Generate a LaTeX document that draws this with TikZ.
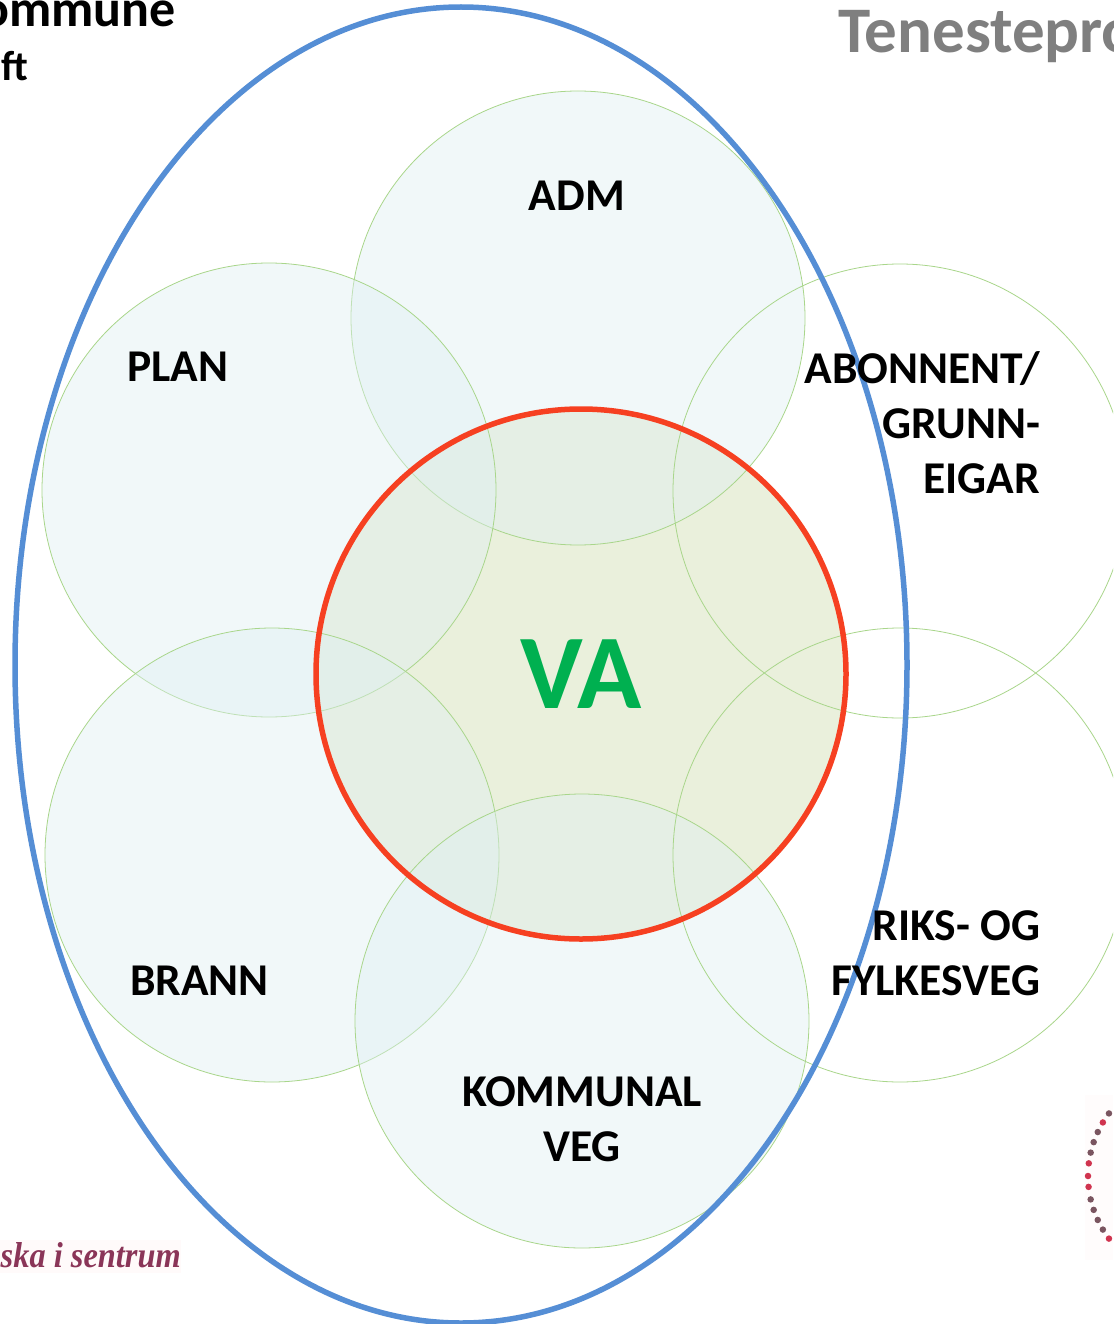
\documentclass[tikz,border=0pt]{standalone}
\usepackage{fontspec}
\setmainfont{Carlito}
\usetikzlibrary{shapes.geometric}
\definecolor{petal}{HTML}{DFEFF2}
\definecolor{petalline}{HTML}{A9D68B}
\definecolor{vafill}{HTML}{EAF0DC}
\definecolor{varing}{HTML}{F64021}
\definecolor{outerring}{HTML}{558ED5}
\definecolor{vagreen}{HTML}{00B050}
\definecolor{titlegrey}{HTML}{7F7F7F}
\definecolor{logored}{HTML}{D0344F}
\definecolor{loggrey}{HTML}{7A5560}
\definecolor{strap}{HTML}{8A3558}
\newfontfamily\strapfont[FakeStretch=0.9]{Liberation Serif}
\tikzset{
  petalbase/.style={circle,inner sep=0pt,outer sep=0pt,minimum size=454pt,draw=petalline,line width=0.8pt},
  bluepetal/.style={petalbase,fill=petal,fill opacity=0.42},
  plainpetal/.style={petalbase},
  lab/.style={font=\fontsize{45.5}{55}\selectfont\bfseries,text=black,inner sep=0pt,outer sep=0pt},
  logodot/.style={circle,inner sep=0pt,minimum size=6.5pt,fill=#1}
}
\begin{document}
\begin{tikzpicture}[x=1pt,y=-1pt]
\useasboundingbox (0,0) rectangle (1113,1324);
\clip (0,0) rectangle (1113,1324);
\fill[white] (0,0) rectangle (1113,1324);
% faint logo backgrounds
\fill[red!2!white] (0,1240) rectangle (181,1273);
\fill[red!1!white] (1085,1095) rectangle (1113,1260);
% titles
\node[font=\fontsize{52}{52}\selectfont\bfseries,text=black,anchor=base east,inner sep=0pt] (tkommune) at (176,27) {ommune};
\node[font=\fontsize{42}{42}\selectfont\bfseries,text=black,anchor=base east,inner sep=0pt] (tft) at (28,81) {ft};
\node[font=\fontsize{65}{65}\selectfont\bfseries,text=titlegrey,anchor=base west,inner sep=0pt] (ttenest) at (838,53) {Tenestepro};
\node[font=\fontsize{36}{36}\selectfont\strapfont\itshape\bfseries,text=strap,anchor=base east,inner sep=0pt] (tstrap) at (181,1267) {ska i sentrum};
% logo dots
\foreach \a/\c in {-37/loggrey,-31/logored,-25/loggrey,-19/loggrey,-13/loggrey,-7/logored,0/logored,6/logored,13/loggrey,19/loggrey,25/loggrey,31/loggrey,37/logored}{
  \node[logodot=\c] (dot\a) at ({1192-104*cos(\a)},{1176+104*sin(\a)}) {};
}
% VA disc
\fill[vafill] (581,674) circle[radius=265];
% petals
\node[bluepetal] (adm) at (578,318) {};
\node[bluepetal] (plan) at (269,490) {};
\node[bluepetal] (brann) at (272,855) {};
\node[bluepetal] (veg) at (582,1021) {};
\node[plainpetal] (abon) at (900,491) {};
\node[plainpetal] (riks) at (900,855) {};
% rings
\node[circle,draw=varing,line width=5.5pt,inner sep=0pt,outer sep=0pt,minimum size=530pt] (va) at (581,674) {};
\node[ellipse,draw=outerring,line width=5.5pt,inner sep=0pt,outer sep=0pt,minimum width=892pt,minimum height=1316pt] (outer) at (461,665) {};
% labels
\node[lab,anchor=base] (ladm) at (577,211) {ADM};
\node[lab,anchor=base] (lplan) at (178,381.5) {PLAN};
\node[lab,anchor=base] (lbrann) at (199.5,995) {BRANN};
\node[lab,anchor=base,align=center] (lveg) at (582,1161) {KOMMUNAL\\VEG};
\node[lab,anchor=base east,align=right] (labon) at (1040,493) {ABONNENT/\\GRUNN-\\EIGAR};
\node[lab,anchor=base east,align=right] (lriks) at (1040,995) {RIKS- OG\\FYLKESVEG};
\node[font=\fontsize{106}{106}\selectfont\bfseries,text=vagreen,anchor=base,inner sep=0pt] (lva) at (581,708) {VA};
\end{tikzpicture}
\end{document}
